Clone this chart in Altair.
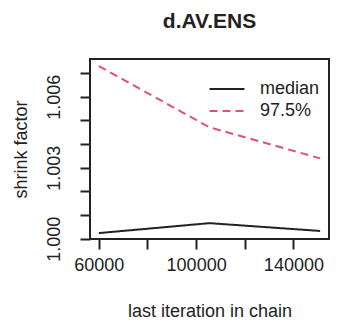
import altair as alt
import pandas as pd

# data
iterations = [60000, 105500, 151000]
median_vals = [1.00024, 1.00066, 1.00033]
q975_vals = [1.0073, 1.00471, 1.0034]
series_names = ["median", "97.5%"]

rows = []
for it, m, q in zip(iterations, median_vals, q975_vals):
    rows.append({"iter": it, "value": m, "series": series_names[0]})
    rows.append({"iter": it, "value": q, "series": series_names[1]})
df = pd.DataFrame(rows)

FONT = "Liberation Sans"

x_ticks = [60000, 80000, 100000, 120000, 140000]
y_ticks = [1.000, 1.001, 1.002, 1.003, 1.004, 1.005, 1.006, 1.007]

chart = alt.Chart(df).mark_line(strokeWidth=2).encode(
    x=alt.X("iter:Q",
            scale=alt.Scale(domain=[56360, 154640], nice=False, zero=False),
            axis=alt.Axis(values=x_ticks, format="d",
                          labelExpr="datum.value % 40000 == 20000 ? datum.label : ''",
                          title="last iteration in chain",
                          titleY=72, titleBaseline="middle",
                          labelPadding=7)),
    y=alt.Y("value:Q",
            scale=alt.Scale(domain=[0.99999, 1.0076], nice=False, zero=False),
            axis=alt.Axis(values=y_ticks, format=".3f",
                          labelExpr="((round(datum.value*1000) - 1000) % 3 == 0) ? datum.label : ''",
                          labelAngle=-90, labelAlign="center", labelBaseline="bottom",
                          labelPadding=17,
                          title="shrink factor",
                          titleX=-69, titleY=90, titleAngle=-90,
                          titleBaseline="middle", titleAlign="center")),
    color=alt.Color("series:N",
                    scale=alt.Scale(domain=series_names, range=["#222222", "#DF536B"]),
                    legend=alt.Legend(title=None, orient="none", legendX=127, legendY=20,
                                      symbolType="M-2,0H2", symbolSize=306,
                                      symbolStrokeWidth=2, labelFontSize=18,
                                      labelFont=FONT, labelColor="#222222",
                                      labelOffset=23, rowPadding=3)),
    strokeDash=alt.StrokeDash("series:N",
                              scale=alt.Scale(domain=series_names, range=[[1, 0], [8, 5]]),
                              legend=None),
).properties(
    width=239,
    height=180,
    title=alt.TitleParams("d.AV.ENS", fontSize=21, font=FONT, fontWeight="bold",
                          color="#222222", offset=27, anchor="middle"),
    autosize=alt.AutoSizeParams(type="none"),
    padding={"left": 82, "top": 51, "right": 1, "bottom": 82},
).configure_view(
    stroke="#222222", strokeWidth=2
).configure_axis(
    labelFont=FONT, titleFont=FONT, labelFontSize=18, titleFontSize=18,
    labelColor="#222222", titleColor="#222222", titleFontWeight="normal",
    tickColor="#222222", tickSize=10, tickWidth=2, domain=False, grid=False,
)

chart.save("out.html", embed_options={"renderer": "svg", "actions": False})
